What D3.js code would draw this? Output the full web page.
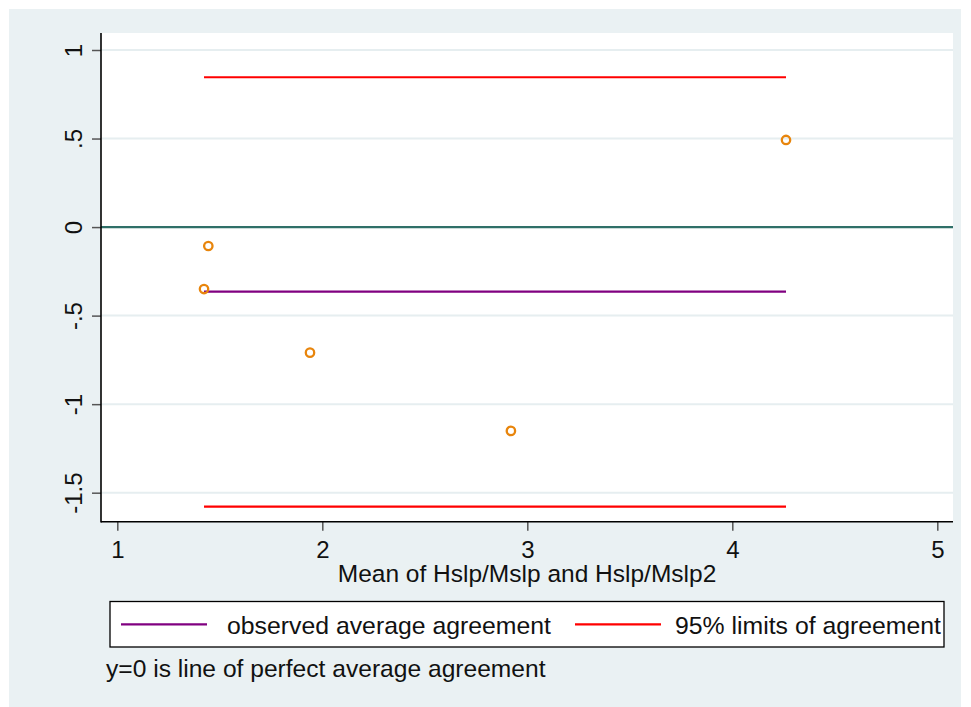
<!DOCTYPE html>
<html>
<head>
<meta charset="utf-8">
<script src="https://cdn.jsdelivr.net/npm/d3@7"></script>
<style>
  html, body { margin: 0; padding: 0; background: #fff; }
  svg { display: block; font-family: "Liberation Sans", Arial, sans-serif; }
</style>
</head>
<body>
<svg width="971" height="707"></svg>
<script>
// mean of the two measurements (x) and their difference (y)
var meanVals = [1.444, 1.423, 1.940, 2.920, 4.262]
var diffVals = [-0.107, -0.350, -0.709, -1.151, 0.492]

var avgAgreement = -0.365
var limitsAgreement = [0.846, -1.579]

var xTicks = [1, 2, 3, 4, 5]
var yTicks = [1, 0.5, 0, -0.5, -1, -1.5]
var yTickLabels = ['1', '.5', '0', '-.5', '-1', '-1.5']

var xTitle = 'Mean of Hslp/Mslp and Hslp/Mslp2'
var legendLabels = ['observed average agreement', '95% limits of agreement']
var note = 'y=0 is line of perfect average agreement'

var svg = d3.select('svg')

var plot = { left: 101, right: 953, top: 33, bottom: 521.7 }

// outer panel
svg.append('rect')
.attr('x', 9).attr('y', 9)
.attr('width', 952).attr('height', 698)
.attr('fill', '#eaf1f3')

svg.append('rect')
.attr('x', plot.left).attr('y', plot.top)
.attr('width', plot.right - plot.left).attr('height', plot.bottom - plot.top)
.attr('fill', '#fff')

var x = d3.scaleLinear().domain([0.9205, 5.0766]).range([plot.left, plot.right])
var y = d3.scaleLinear().domain([1.096, -1.6638]).range([plot.top, plot.bottom])

// grid lines
svg.append('g')
.selectAll('line')
.data(yTicks)
.enter().append('line')
.attr('x1', plot.left).attr('x2', plot.right)
.attr('y1', function (d) { return y(d) })
.attr('y2', function (d) { return y(d) })
.attr('stroke', '#e6eef0')
.attr('stroke-width', 2)

// y=0 reference line
svg.append('line')
.attr('x1', plot.left).attr('x2', plot.right)
.attr('y1', y(0)).attr('y2', y(0))
.attr('stroke', '#2f6f68')
.attr('stroke-width', 2.2)

var xr = d3.extent(meanVals)

// limits of agreement
svg.append('g')
.selectAll('line')
.data(limitsAgreement)
.enter().append('line')
.attr('x1', x(xr[0])).attr('x2', x(xr[1]))
.attr('y1', function (d) { return y(d) })
.attr('y2', function (d) { return y(d) })
.attr('stroke', '#ff0000')
.attr('stroke-width', 2.2)

svg.append('line')
.attr('x1', x(xr[0])).attr('x2', x(xr[1]))
.attr('y1', y(avgAgreement)).attr('y2', y(avgAgreement))
.attr('stroke', '#800080')
.attr('stroke-width', 2.2)

// points
svg.append('g')
.selectAll('circle')
.data(d3.range(meanVals.length))
.enter().append('circle')
.attr('cx', function (i) { return x(meanVals[i]) })
.attr('cy', function (i) { return y(diffVals[i]) })
.attr('r', 4.2)
.attr('fill', 'none')
.attr('stroke', '#e8850c')
.attr('stroke-width', 2.3)

// axes
var yAxis = d3.axisLeft(y).tickValues(yTicks)
.tickFormat(function (d, i) { return yTickLabels[i] })
.tickSize(9).tickPadding(10)

var gy = svg.append('g')
.attr('transform', 'translate(' + plot.left + ',0)')
.call(yAxis)
gy.select('.domain').remove()
gy.selectAll('.tick line').attr('stroke', '#555').attr('stroke-width', 1.5)
gy.selectAll('.tick text')
.attr('font-size', 24).attr('fill', '#111')
.attr('transform', 'rotate(-90)')
.attr('x', 0).attr('y', -19).attr('dy', 0)
.attr('text-anchor', 'middle')

var xAxis = d3.axisBottom(x).tickValues(xTicks)
.tickFormat(d3.format('d'))
.tickSize(9).tickPadding(8)

var gx = svg.append('g')
.attr('transform', 'translate(0,' + plot.bottom + ')')
.call(xAxis)
gx.select('.domain').remove()
gx.selectAll('.tick line').attr('stroke', '#555').attr('stroke-width', 1.5)
gx.selectAll('.tick text').attr('font-size', 24).attr('fill', '#111').attr('dy', '0.82em')

svg.append('line')
.attr('x1', plot.left).attr('x2', plot.left)
.attr('y1', plot.top).attr('y2', plot.bottom + 0.8)
.attr('stroke', '#000').attr('stroke-width', 1.6)
svg.append('line')
.attr('x1', plot.left).attr('x2', plot.right)
.attr('y1', plot.bottom).attr('y2', plot.bottom)
.attr('stroke', '#000').attr('stroke-width', 1.6)

svg.append('text')
.attr('x', (plot.left + plot.right) / 2).attr('y', 582)
.attr('text-anchor', 'middle')
.attr('font-size', 24.5).attr('fill', '#111')
.text(xTitle)

// legend
svg.append('rect')
.attr('x', 110).attr('y', 601.5)
.attr('width', 834).attr('height', 45.5)
.attr('fill', '#fff').attr('stroke', '#000').attr('stroke-width', 1.3)

var legendItems = [
  { label: legendLabels[0], color: '#800080', x0: 121, tx: 227 },
  { label: legendLabels[1], color: '#ff0000', x0: 575, tx: 675 }
]
var lg = svg.append('g').selectAll('g').data(legendItems).enter().append('g')
lg.append('line')
.attr('x1', function (d) { return d.x0 }).attr('x2', function (d) { return d.x0 + 86 })
.attr('y1', 624.3).attr('y2', 624.3)
.attr('stroke', function (d) { return d.color })
.attr('stroke-width', 2.2)
lg.append('text')
.attr('x', function (d) { return d.tx }).attr('y', 634)
.attr('font-size', 24.8).attr('fill', '#111')
.text(function (d) { return d.label })

svg.append('text')
.attr('x', 106).attr('y', 677)
.attr('font-size', 24.6).attr('fill', '#111')
.text(note)
</script>
</body>
</html>
